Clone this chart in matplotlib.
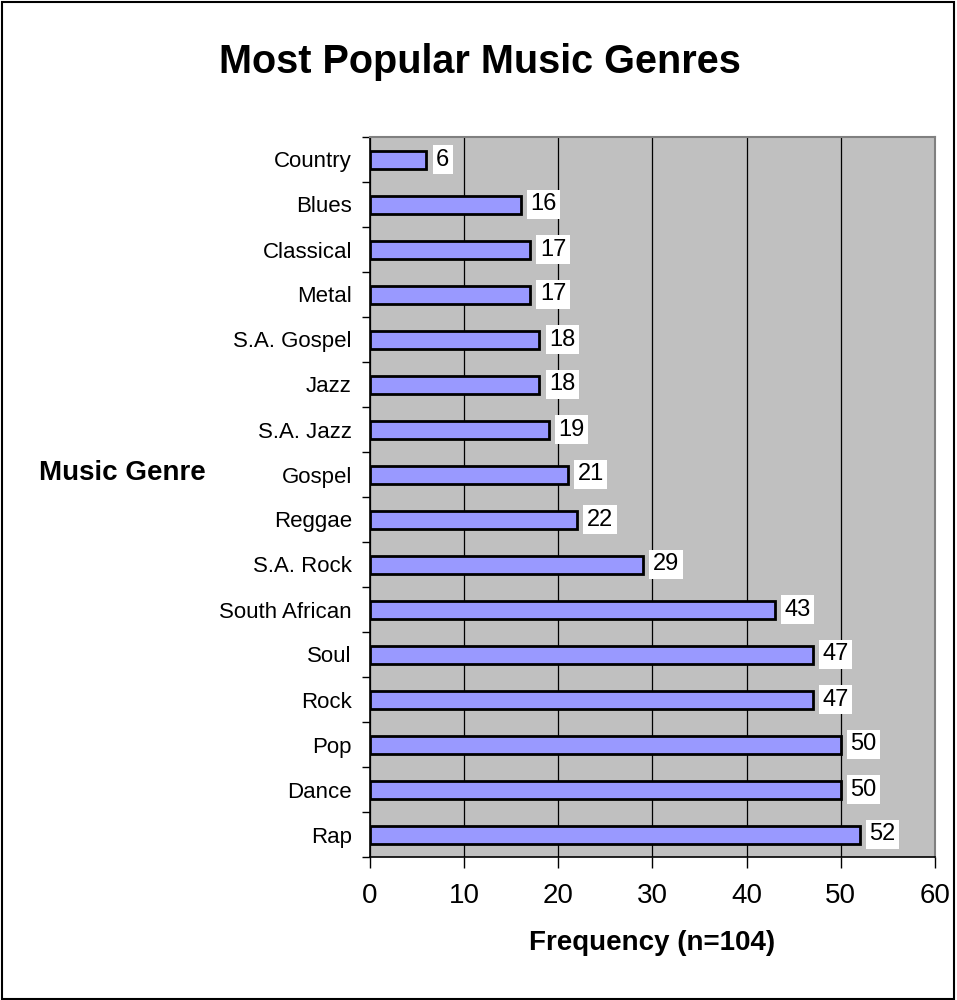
import matplotlib.pyplot as plt
from matplotlib.patches import Rectangle
import numpy as np

plt.rcParams['font.family'] = ['Liberation Sans', 'DejaVu Sans']

genres = ['Country', 'Blues', 'Classical', 'Metal', 'S.A. Gospel', 'Jazz',
          'S.A. Jazz', 'Gospel', 'Reggae', 'S.A. Rock', 'South African',
          'Soul', 'Rock', 'Pop', 'Dance', 'Rap']
counts = [6, 16, 17, 17, 18, 18, 19, 21, 22, 29, 43, 47, 47, 50, 50, 52]

fig = plt.figure(figsize=(9.57, 10), dpi=100)
ax = fig.add_axes([0.3866, 0.143, 0.5904, 0.72])

y = np.arange(len(genres))
ax.barh(y, counts, height=0.4, color='#9999FF', edgecolor='black',
        linewidth=2, zorder=3)

for yi, v in zip(y, counts):
    ax.annotate(str(v), (v, yi), xytext=(7, 0), textcoords='offset points',
                va='center', ha='left', fontsize=17, zorder=4,
                bbox=dict(boxstyle='square,pad=0.15', fc='white', ec='none'))

ax.set_xlim(0, 60)
ax.set_ylim(len(genres) - 0.5, -0.5)
ax.set_facecolor('#C0C0C0')

ax.set_xticks(range(0, 61, 10))
ax.tick_params(axis='x', direction='out', length=8, width=1, pad=11,
               labelsize=20)
ax.xaxis.grid(True, color='black', linewidth=0.9, zorder=1)

ax.set_yticks(y)
ax.set_yticklabels(genres)
ax.set_yticks(np.arange(-0.5, len(genres)), minor=True)
ax.tick_params(axis='y', which='major', length=0, pad=13, labelsize=16)
ax.tick_params(axis='y', which='minor', direction='out', length=6, width=1)

ax.spines['left'].set_color('black')
ax.spines['bottom'].set_color('black')
ax.spines['left'].set_linewidth(1.2)
ax.spines['bottom'].set_linewidth(1.2)
ax.spines['top'].set_color('#808080')
ax.spines['right'].set_color('#808080')
ax.spines['top'].set_linewidth(1.5)
ax.spines['right'].set_linewidth(1.5)

fig.text(0.502, 0.938, 'Most Popular Music Genres', ha='center', va='center',
         fontsize=28.5, fontweight='bold')
fig.text(0.128, 0.527, 'Music Genre', ha='center', va='center',
         fontsize=20, fontweight='bold')
fig.text(0.681, 0.057, 'Frequency (n=104)', ha='center', va='center',
         fontsize=20, fontweight='bold')

fig.patches.append(Rectangle((0.002, 0.001), 0.995, 0.997,
                             transform=fig.transFigure, fill=False,
                             edgecolor='black', linewidth=1.5))

fig.savefig('out.png', dpi=100)
